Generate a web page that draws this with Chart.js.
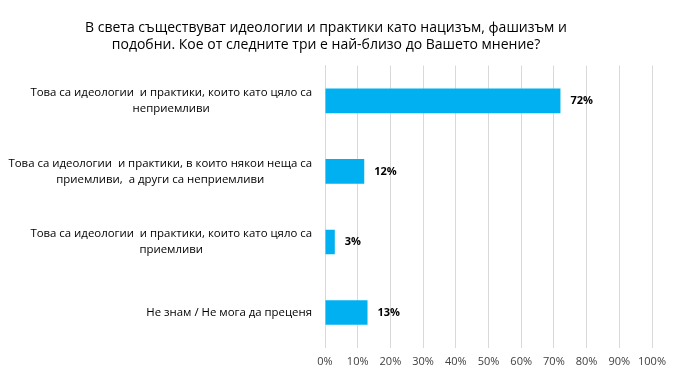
<!DOCTYPE html>
<html>
<head>
<meta charset="utf-8">
<script src="https://cdn.jsdelivr.net/npm/chart.js@4"></script>
<style>
  html, body { margin: 0; padding: 0; background: #fff; }
  #wrap { width: 681px; height: 378px; position: relative; }
</style>
</head>
<body>
<div id="wrap"><canvas id="chart"></canvas></div>
<script>
const titleLines = [
    'В света съществуват идеологии и практики като нацизъм, фашизъм и',
    'подобни. Кое от следните три е най-близо до Вашето мнение?'
];
const categories = [
    ['Това са идеологии  и практики, които като цяло са', 'неприемливи'],
    ['Това са идеологии  и практики, в които някои неща са', 'приемливи,  а други са неприемливи'],
    ['Това са идеологии  и практики, които като цяло са', 'приемливи'],
    ['Не знам / Не мога да преценя']
];
const values = [72, 12, 3, 13];
const xTicks = [0, 10, 20, 30, 40, 50, 60, 70, 80, 90, 100];

const FONT = '"Open Sans", "Noto Sans", sans-serif';

/* ---------- category labels: right-aligned blocks, lines centered ---------- */
const catLabelPlugin = {
    id: 'catLabels',
    afterDraw(chart) {
        const ctx = chart.ctx;
        const y = chart.scales.y;
        const right = y.right - 13;
        ctx.save();
        ctx.font = '11.4px ' + FONT;
        ctx.fillStyle = '#000';
        ctx.textAlign = 'center';
        ctx.textBaseline = 'middle';
        categories.forEach((lines, i) => {
            const cy = y.getPixelForTick(i);
            const w = Math.max(...lines.map(l => ctx.measureText(l).width));
            const cx = right - w / 2;
            const lh = 16;
            const top = cy - (lines.length - 1) * lh / 2;
            lines.forEach((l, j) => ctx.fillText(l, cx, top + j * lh));
        });
        ctx.restore();
    }
};

/* ---------- value labels ---------- */
const valueLabelPlugin = {
    id: 'valueLabels',
    afterDatasetsDraw(chart) {
        const ctx = chart.ctx;
        const meta = chart.getDatasetMeta(0);
        ctx.save();
        ctx.font = 'bold 11px ' + FONT;
        ctx.fillStyle = '#000';
        ctx.textBaseline = 'middle';
        meta.data.forEach((bar, i) => {
            ctx.fillText(values[i] + '%', bar.x + 10, bar.y);
        });
        ctx.restore();
    }
};

new Chart(document.getElementById('chart'), {
    type: 'bar',
    plugins: [catLabelPlugin, valueLabelPlugin],
    data: {
        labels: categories,
        datasets: [{
            data: values,
            backgroundColor: '#00B0F0',
            barPercentage: 0.35,
            categoryPercentage: 1
        }]
    },
    options: {
        indexAxis: 'y',
        responsive: true,
        maintainAspectRatio: false,
        animation: false,
        layout: { padding: { left: 0, right: 29, top: 10, bottom: 3 } },
        plugins: {
            legend: { display: false },
            tooltip: { enabled: false },
            title: {
                display: true,
                text: titleLines,
                color: '#000',
                font: { family: FONT, size: 14, weight: 'normal', lineHeight: 1.2 },
                padding: { top: 10, bottom: 12 }
            }
        },
        scales: {
            x: {
                min: 0,
                max: 100,
                afterBuildTicks(scale) {
                    scale.ticks = xTicks.map(v => ({ value: v }));
                },
                ticks: {
                    callback: v => v + '%',
                    color: '#404040',
                    font: { family: FONT, size: 11 },
                    padding: 7,
                    maxRotation: 0
                },
                grid: { color: '#d9d9d9', drawTicks: false },
                border: { display: false }
            },
            y: {
                ticks: { display: false },
                afterFit(scale) { scale.width = 325; },
                grid: { display: false },
                border: { display: true, color: '#d9d9d9' }
            }
        }
    }
});
</script>
</body>
</html>
